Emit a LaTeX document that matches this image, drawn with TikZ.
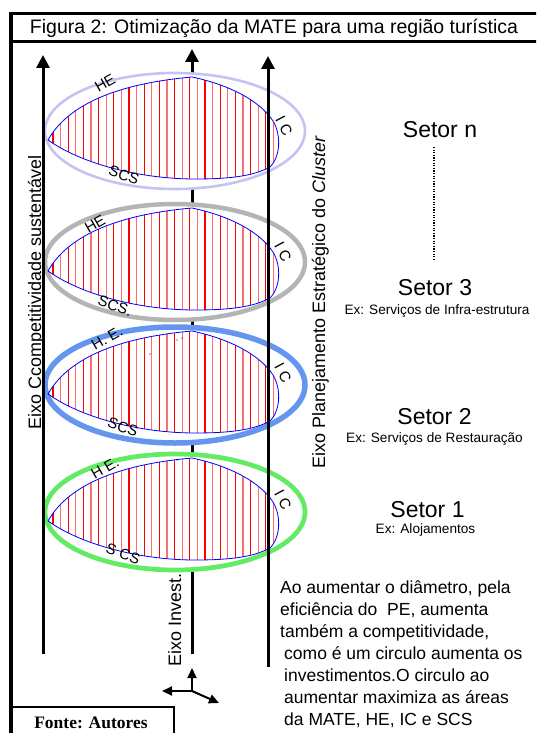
\documentclass[tikz,border=0pt]{standalone}
\usepackage{fontspec}
\setmainfont{Liberation Sans}
\newfontfamily\serifbf{Liberation Serif}
\usetikzlibrary{arrows.meta}
\definecolor{lavE}{RGB}{196,196,244}
\definecolor{grayE}{RGB}{180,180,180}
\definecolor{blueE}{RGB}{100,150,240}
\definecolor{greenE}{RGB}{100,235,100}
\definecolor{hatchA}{RGB}{255,0,0}
\definecolor{hatchB}{RGB}{255,110,110}
\newcommand{\blobpath}{(-127,9) .. controls (-105,-30) and (-50,-48) .. (17,-54) .. controls (55,-46) and (85,-30) .. (98,-10) .. controls (106,3) and (106,25) .. (95,36) .. controls (80,44) and (60,48) .. (20,48) .. controls (-30,48) and (-90,35) .. cycle}
\begin{document}
\begin{tikzpicture}[x=1pt,y=-1pt,
  axisline/.style={line width=3pt,-{Triangle[length=13pt,width=13pt]}},
  smallarrow/.style={line width=2pt,-{Triangle[length=10pt,width=9pt]}},
  lab/.style={inner sep=0pt,font=\fontsize{15}{15}\selectfont},
  axlab/.style={inner sep=0pt,anchor=base,rotate=90,font=\fontsize{18}{18}\selectfont},
  setor/.style={inner sep=0pt,anchor=base,font=\fontsize{23}{23}\selectfont},
  exlab/.style={inner sep=0pt,anchor=base,font=\fontsize{13.6}{14}\selectfont},
  para/.style={inner sep=0pt,anchor=base west,font=\fontsize{17.5}{18}\selectfont}]
\useasboundingbox (0,0) rectangle (536,733);
\clip (0,0) rectangle (536,733);
\fill[white] (0,0) rectangle (536,733);

% frame
\draw[line width=3.3pt] (545,13.3) -- (11,13.3) -- (11,745);
\draw[line width=2.7pt] (11,41.3) -- (545,41.3);
\draw[line width=2.5pt] (11,707) -- (174,707) -- (174,745);
\node[anchor=base,inner sep=0pt,font=\fontsize{19.5}{20}\selectfont] (title) at (274,34) {Figura 2: Otimização da MATE para uma região turística};
\node[anchor=base,inner sep=0pt,font=\serifbf\bfseries\fontsize{17.5}{18}\selectfont] (fonte) at (91,728) {Fonte: Autores};

% axis coordinates
\coordinate (lb) at (43,654); \coordinate (lt) at (43,55);
\coordinate (mb) at (192,654); \coordinate (mt) at (192,49);
\coordinate (rb) at (268,667); \coordinate (rt) at (268,56);

% middle axis (behind the ellipses)
\draw[axisline] (mb) -- (mt);

% ellipses with hatched MATE areas
\foreach \cy/\col/\lw in {131/lavE/2.6, 262/grayE/4.5, 385/blueE/5.5, 512/greenE/4.7}{
  \begin{scope}[shift={(175,\cy)}]
    \draw[\col,line width=\lw pt,fill=white] (0,0) ellipse [x radius=130pt, y radius=58pt];
    \begin{scope}
      \clip \blobpath;
      \foreach \k in {0,...,29}{
        \ifodd\k\relax \def\hc{hatchB}\else \def\hc{hatchA}\fi
        \draw[\hc,line width=1.1pt] ({-122+7.6*\k},-70) -- ({-122+7.6*\k},60);
      }
    \end{scope}
    \draw[blue,line width=0.8pt,line join=round] \blobpath;
  \end{scope}
}

% tiny dots
\foreach \p in {(150,354),(177,340),(182,338),(177,460)}{\fill[black] \p circle[radius=0.7pt];}

% left and right axes on top
\draw[axisline] (lb) -- (lt);
\draw[axisline] (rb) -- (rt);

% labels on the ellipses
\node[lab,rotate=30] (he1) at (105,83) {HE};
\node[lab,rotate=-62] (ic1) at (284,126) {I C};
\node[lab,rotate=-20] (scs1) at (124,175) {SCS};
\node[lab,rotate=30] (he2) at (95,224) {HE};
\node[lab,rotate=-62] (ic2) at (283,252) {I C};
\node[lab,rotate=-20] (scs2) at (115,306) {SCS.};
\node[lab,rotate=30] (he3) at (107,338) {H. E.};
\node[lab,rotate=-62] (ic3) at (283,373) {I C};
\node[lab,rotate=-20] (scs3) at (123,427) {SCS};
\node[lab,rotate=30] (he4) at (105,468) {H E.};
\node[lab,rotate=-62] (ic4) at (283,500) {I C};
\node[lab,rotate=-20] (scs4) at (123,554) {S CS};

% axis labels
\node[axlab] (axl) at (41,292.5) {Eixo Ccompetitividade sustentável};
\node[axlab] (axr) at (325,302.5) {Eixo Planejamento Estratégico do {\itshape Cluster}};
\node[axlab] (axm) at (181,619.5) {Eixo Invest.};

% small axes symbol
\coordinate (o) at (192,691);
\coordinate (oup) at (192,668);
\coordinate (oleft) at (162,691);
\coordinate (odiag) at (219,703);
\draw[smallarrow] (o) -- (oup);
\draw[smallarrow] (o) -- (oleft);
\draw[smallarrow] (o) -- (odiag);

% sectors
\node[setor] (sn) at (440,138) {Setor n};
\coordinate (dtop) at (434,147); \coordinate (dbot) at (434,260);
\draw[line width=1.3pt,dash pattern=on 1.2pt off 1.4pt] (dtop) -- (dbot);
\node[setor] (s3) at (435,295) {Setor 3};
\node[exlab] (e3) at (437,314) {Ex: Serviços de Infra-estrutura};
\node[setor] (s2) at (434.5,424) {Setor 2};
\node[exlab] (e2) at (434.5,442) {Ex: Serviços de Restauração};
\node[setor] (s1) at (427.5,517) {Setor 1};
\node[exlab] (e1) at (425.5,533) {Ex: Alojamentos};

% paragraph
\node[para] (p1) at (280,593) {Ao aumentar o diâmetro, pela};
\node[para] (p2) at (280,615) {eficiência do\ \ PE, aumenta};
\node[para] (p3) at (280,637) {também a competitividade,};
\node[para] (p4) at (284,659) {como é um circulo aumenta os};
\node[para] (p5) at (284,681) {investimentos.O circulo ao};
\node[para] (p6) at (284,703) {aumentar maximiza as áreas};
\node[para] (p7) at (284,725) {da MATE, HE, IC e SCS};
\end{tikzpicture}
\end{document}
